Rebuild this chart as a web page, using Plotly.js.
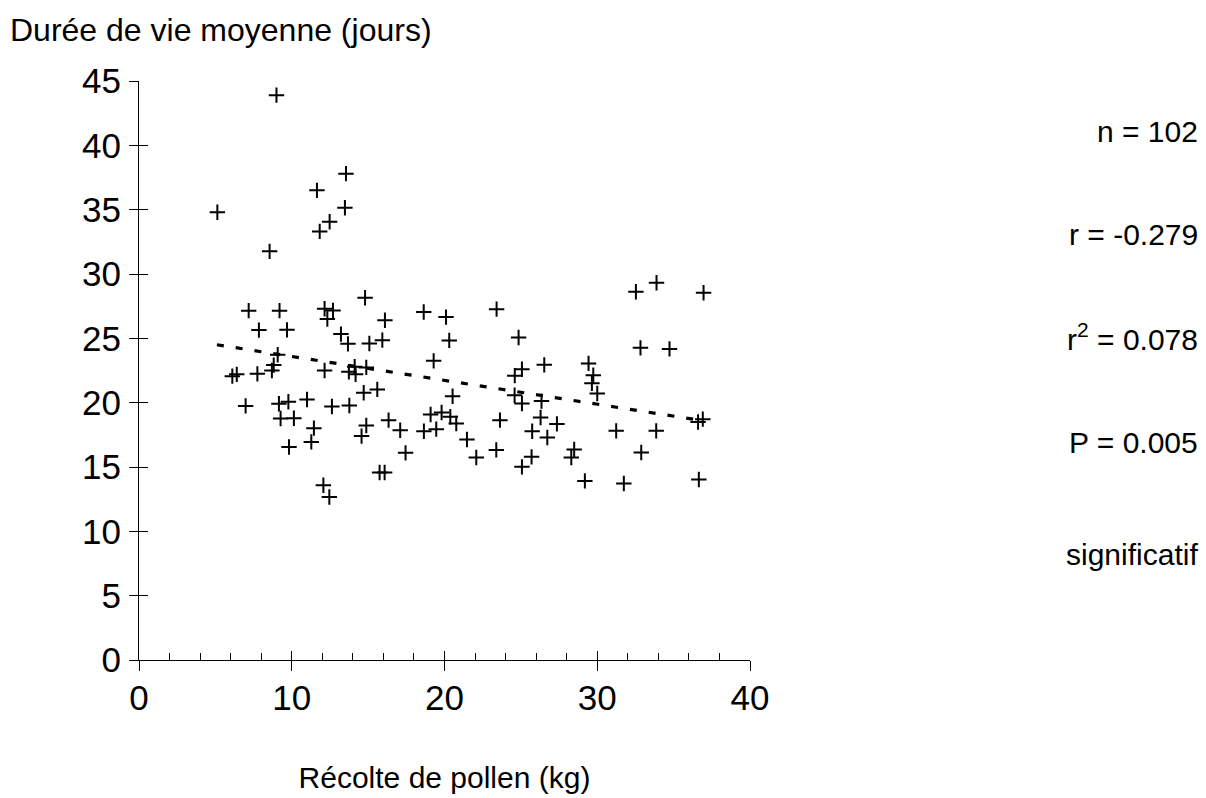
<!DOCTYPE html>
<html>
<head>
<meta charset="utf-8">
<script src="https://cdn.plot.ly/plotly-3.0.1.min.js"></script>
<style>html,body{margin:0;padding:0;background:#fff;}#chart{width:1206px;height:798px;}</style>
</head>
<body>
<div id="chart"></div>
<script>
// Récolte de pollen (kg)
var pollenKg = [
  9.0, 13.55, 11.65, 5.13, 13.48, 12.48, 11.83, 8.55, 14.8, 7.18,
  9.2, 12.15, 12.7, 18.64, 20.1, 12.33, 16.1, 7.85, 9.69, 13.22,
  13.68, 15.08, 15.93, 9.08, 8.82, 8.7, 6.11, 6.4, 7.75, 12.15,
  13.74, 14.12, 14.18, 14.88, 14.71, 15.6, 11.0, 9.16, 9.78, 6.98,
  12.63, 13.77, 9.27, 10.14, 16.34, 17.1, 14.88, 14.57, 11.45, 11.28,
  9.82, 17.45, 15.75, 16.08, 12.07, 12.46, 23.41, 20.31, 24.85, 19.29,
  25.07, 26.53, 24.6, 32.53, 33.88, 36.96, 32.83, 34.73, 29.43, 29.74,
  29.65, 20.53, 24.59, 25.07, 26.35, 19.09, 19.81, 20.38, 20.77, 23.63,
  26.29, 27.36, 18.65, 19.46, 25.74, 26.73, 21.47, 23.39, 22.08, 25.7,
  25.07, 30.0, 36.91, 36.6, 31.24, 33.86, 28.49, 28.3, 32.88, 29.19,
  31.74, 36.65
];
// Durée de vie moyenne (jours)
var dureeJours = [
  43.9, 37.8, 36.5, 34.8, 35.15, 34.06, 33.31, 31.76, 28.15, 27.15,
  27.15, 27.3, 27.17, 27.05, 26.65, 26.5, 26.4, 25.64, 25.66, 25.33,
  24.57, 24.6, 24.86, 23.72, 22.92, 22.5, 22.06, 22.2, 22.24, 22.5,
  22.4, 22.79, 22.2, 22.74, 20.77, 21.03, 20.25, 19.91, 20.07, 19.75,
  19.7, 19.78, 18.77, 18.79, 18.64, 17.86, 18.22, 17.4, 18.02, 16.95,
  16.56, 16.1, 14.57, 14.57, 13.58, 12.67, 27.27, 24.84, 25.07, 23.25,
  22.6, 22.94, 22.1, 28.62, 29.32, 28.54, 24.26, 24.18, 23.05, 22.14,
  21.5, 20.5, 20.58, 19.94, 20.12, 19.08, 19.24, 18.9, 18.38, 18.64,
  18.85, 18.35, 17.78, 17.94, 17.78, 17.29, 17.14, 16.33, 15.74, 15.79,
  15.01, 20.71, 18.72, 18.5, 17.81, 17.81, 16.36, 15.74, 16.13, 13.92,
  13.72, 14.03
];
// Droite de régression (extrémités)
var fitX = [5.1, 36.9];
var fitY = [24.5, 18.6];

var statLabels = ["n = 102", "r = -0.279", "r<sup>2</sup> = 0.078", "P = 0.005", "significatif"];
var statY = [131, 234, 337, 442, 554];

var xTickVals = [0, 10, 20, 30, 40];
var yTickVals = [0, 5, 10, 15, 20, 25, 30, 35, 40, 45];

var FONT = "Liberation Sans, Arial, Helvetica, sans-serif";
var W = 1206, H = 798;
var mL = 139.3, mR = W - 750.5, mT = 81, mB = H - 659.7;

var traces = [
  {
    x: fitX, y: fitY, type: "scatter", mode: "lines",
    line: {color: "#000", width: 3.2, dash: "7px,12px"},
    hoverinfo: "skip", showlegend: false
  },
  {
    x: pollenKg, y: dureeJours, type: "scatter", mode: "markers",
    marker: {symbol: "cross-thin", size: 11, color: "#000", line: {color: "#000", width: 2}},
    showlegend: false
  },
  {
    x: [], y: [], xaxis: "x2", yaxis: "y2", type: "scatter", mode: "markers",
    showlegend: false, hoverinfo: "skip"
  }
];

var annotations = statLabels.map(function (t, i) {
  return {
    text: t, xref: "paper", yref: "paper",
    x: (1201 - mL) / (W - mL - mR), xanchor: "right",
    y: (H - mB - statY[i]) / (H - mT - mB), yanchor: "middle",
    showarrow: false, font: {family: FONT, size: 30, color: "#000"}
  };
});

var layout = {
  width: W, height: H,
  margin: {l: mL, r: mR, t: mT, b: mB, pad: 0},
  paper_bgcolor: "#fff", plot_bgcolor: "#fff",
  font: {family: FONT, size: 30, color: "#000"},
  showlegend: false,
  title: {
    text: "Durée de vie moyenne (jours)",
    x: 10 / W, xref: "container", xanchor: "left",
    y: 1 - 30 / H, yref: "container", yanchor: "middle",
    font: {family: FONT, size: 32, color: "#000"}
  },
  xaxis: {
    range: [0, 40], tickvals: xTickVals, ticktext: xTickVals.map(String),
    showgrid: false, zeroline: false, showline: true, linecolor: "#000", linewidth: 1,
    ticks: "inside", ticklen: 9, tickwidth: 1, tickcolor: "#000",
    ticklabelstandoff: 7,
    minor: {ticks: "inside", ticklen: 7, tickwidth: 1, tickcolor: "#000", dtick: 2, tick0: 0, showgrid: false},
    tickfont: {family: FONT, size: 35, color: "#000"},
    title: {text: "Récolte de pollen (kg)", standoff: 50, font: {family: FONT, size: 30, color: "#000"}},
    fixedrange: true
  },
  yaxis: {
    range: [0, 45], tickvals: yTickVals, ticktext: yTickVals.map(String),
    showgrid: false, zeroline: false, showline: true, linecolor: "#000", linewidth: 1,
    ticks: "inside", ticklen: 9, tickwidth: 1, tickcolor: "#000",
    ticklabelstandoff: 10,
    tickfont: {family: FONT, size: 35, color: "#000"},
    fixedrange: true
  },
  xaxis2: {
    overlaying: "x", anchor: "y2", side: "bottom", range: [0, 40], tickvals: xTickVals,
    showticklabels: false, showgrid: false, zeroline: false, showline: false,
    ticks: "outside", ticklen: 10, tickwidth: 1, tickcolor: "#000", fixedrange: true
  },
  yaxis2: {
    overlaying: "y", anchor: "x2", side: "left", range: [0, 45], tickvals: yTickVals,
    showticklabels: false, showgrid: false, zeroline: false, showline: false,
    ticks: "outside", ticklen: 9, tickwidth: 1, tickcolor: "#000", fixedrange: true
  },
  annotations: annotations
};

Plotly.newPlot("chart", traces, layout, {displayModeBar: false, staticPlot: true});
</script>
</body>
</html>
